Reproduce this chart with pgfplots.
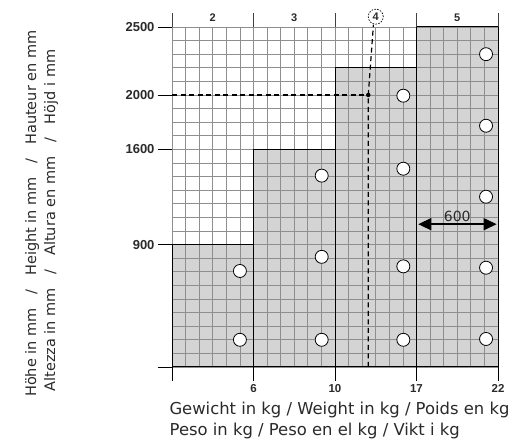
\documentclass[border=0pt]{standalone}
\usepackage{fontspec}
\setmainfont{DejaVu Sans}
\newfontfamily\numfont{Liberation Sans}
\usepackage{pgfplots}
\pgfplotsset{compat=1.18}
\usetikzlibrary{arrows.meta}
\definecolor{barfill}{HTML}{D4D4D4}
\definecolor{gridc}{HTML}{8E8E8E}
\definecolor{txt}{HTML}{2A2A2A}
\newcommand{\sep}{\hspace{0.95em}/\hspace{0.95em}}
\begin{document}
\begin{tikzpicture}[x=1pt,y=1pt]
\begin{axis}[
  at={(172pt,72pt)}, anchor=south west,
  width=326pt, height=340pt, scale only axis,
  xmin=0, xmax=24, ymin=0, ymax=25,
  set layers, clip=false,
  axis line style={draw=none},
  xtick={0,6,12,18,24}, xticklabels={,6,10,17,22},
  ytick={0,9,16,20,25}, yticklabels={,900,1600,2000,2500},
  minor xtick={0,...,24}, minor ytick={0,...,25},
  grid=both,
  major grid style={gridc, line width=0.75pt},
  minor grid style={gridc, line width=0.75pt},
  tick pos=left, tick align=outside,
  major tick length=14pt, minor tick length=0pt,
  tick style={black, line width=0.8pt},
  xticklabel style={font=\numfont\bfseries\fontsize{11.5}{11.5}\selectfont, text=txt},
  yticklabel style={font=\numfont\bfseries\fontsize{13}{13}\selectfont, text=txt},
]
% gray steps
\addplot[fill=barfill, draw=none, on layer=axis background] coordinates {
  (0,0) (0,9) (6,9) (6,16) (12,16) (12,22) (18,22) (18,25) (24,25) (24,0)};
% outlines
\addplot[black, line width=1pt] coordinates {
  (0,9) (6,9) (6,16) (12,16) (12,22) (18,22) (18,25) (24,25) (24,0) (0,0) (0,9)};
\addplot[black, line width=1pt] coordinates {(6,0) (6,16)};
\addplot[black, line width=1pt] coordinates {(12,0) (12,22)};
\addplot[black, line width=1pt] coordinates {(18,0) (18,25)};
\addplot[black, line width=0.8pt] coordinates {(0,0) (-1.03,0)};
% header ticks
\addplot[black!75, line width=0.8pt] coordinates {(0,25) (0,26.03)};
\addplot[black!75, line width=0.8pt] coordinates {(6,25) (6,26.03)};
\addplot[black!75, line width=0.8pt] coordinates {(12,25) (12,26.03)};
\addplot[black!75, line width=0.8pt] coordinates {(18,25) (18,26.03)};
\addplot[black!75, line width=0.8pt] coordinates {(24,25) (24,26.03)};
% dashed reading lines
\addplot[black, line width=1.2pt, dash pattern=on 5pt off 3.5pt] coordinates {(0,20) (14.45,20)};
\addplot[black, line width=1.2pt, dash pattern=on 5pt off 3.5pt] coordinates {(14.45,0) (14.45,20) (14.83,25.18)};
\addplot[only marks, mark=*, mark size=2pt, black] coordinates {(14.45,20)};
% circles
\addplot[only marks, mark=*, mark size=6.5pt, mark options={fill=white, draw=black, line width=0.8pt}] coordinates {
  (5,2) (5,7.06)
  (11.02,2) (11.02,8.1) (11.02,14.07)
  (17.03,2) (17.03,7.4) (17.03,14.58) (17.03,19.95)
  (23.12,2.06) (23.12,7.3) (23.12,12.52) (23.12,17.74) (23.12,23)};
% 600 arrow
\addplot[black, line width=1.5pt, {Triangle[length=13pt,width=12pt]}-{Triangle[length=13pt,width=12pt]}] coordinates {(18.13,10.5) (23.9,10.5)};
\node[font=\fontsize{14}{14}\selectfont, text=txt] at (axis cs:21,11.1) {600};
% column headers
\node[font=\numfont\bfseries\fontsize{11}{11}\selectfont, text=txt] at (axis cs:3,25.66) {2};
\node[font=\numfont\bfseries\fontsize{11}{11}\selectfont, text=txt] at (axis cs:9,25.66) {3};
\node[font=\numfont\bfseries\fontsize{11}{11}\selectfont, text=txt] at (axis cs:15,25.72) {4};
\node[font=\numfont\bfseries\fontsize{11}{11}\selectfont, text=txt] at (axis cs:21,25.66) {5};
\addplot[only marks, mark=o, mark size=7.5pt, mark options={black, dash pattern=on 1.5pt off 1.4pt, line width=0.7pt}] coordinates {(15,25.76)};
\end{axis}
\node[anchor=base west, inner sep=0, text=txt, font=\fontsize{16.4}{16.4}\selectfont] at (169.3,24.3)
  {Gewicht in kg / Weight in kg / Poids en kg};
\node[anchor=base west, inner sep=0, text=txt, font=\fontsize{16.4}{16.4}\selectfont] at (169.5,3)
  {Peso in kg / Peso en el kg / Vikt i kg};
\node[rotate=90, anchor=base west, inner sep=0, text=txt, font=\fontsize{14.5}{14.5}\selectfont] at (36,42)
  {Höhe in mm\sep Height in mm\sep Hauteur en mm};
\node[rotate=90, anchor=base west, inner sep=0, text=txt, font=\fontsize{14.5}{14.5}\selectfont] at (55,47.3)
  {Altezza in mm\sep Altura en mm\sep Höjd i mm};
\pgfresetboundingbox
\path[use as bounding box] (0,0) rectangle (517,439);
\end{tikzpicture}
\end{document}
